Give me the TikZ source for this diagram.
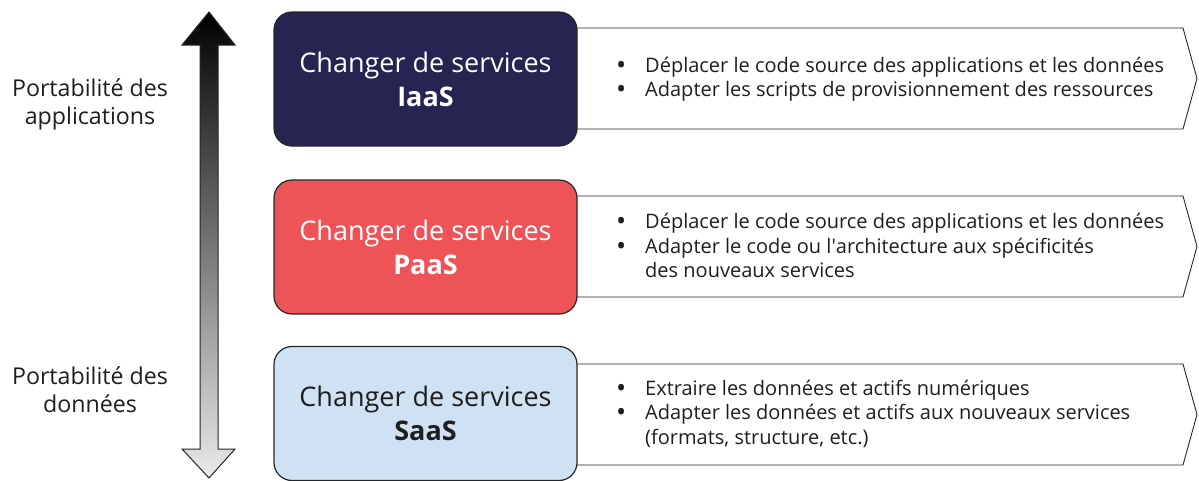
\documentclass[tikz,border=0pt]{standalone}
\usepackage{graphicx}
\usepackage{fontspec}
\setmainfont{Open Sans}
\definecolor{iaas}{HTML}{262451}
\definecolor{paas}{HTML}{EE5457}
\definecolor{saas}{HTML}{CFE2F3}
\definecolor{txt}{HTML}{1E1E1E}
\newcommand{\bul}{\makebox[29pt][l]{\raisebox{-0.1em}{\scalebox{1.35}{\textbullet}}}}
\begin{document}
\begin{tikzpicture}[x=1pt,y=-1pt,
  svcbox/.style={draw=black!85, line width=1.2pt, rounded corners=18pt, minimum width=303pt, minimum height=134pt, align=center, font=\fontsize{27}{34}\selectfont, inner sep=0pt},
  pent/.style={draw=black!85, line width=0.9pt, fill=white},
  bullets/.style={anchor=west, align=left, text=txt, font=\fontsize{20}{24.5}\selectfont, inner sep=0pt},
  sidelabel/.style={align=center, text=txt, font=\fontsize{23.2}{28}\selectfont}]
\useasboundingbox (0,0) rectangle (1199,480);
% double arrow
\shade[top color=black, bottom color=black!8, draw=black!85, line width=1pt]
  (209,12) -- (235,45) -- (218,45) -- (218,449) -- (235,449) -- (209,478)
  -- (182,449) -- (200,449) -- (200,45) -- (182,45) -- cycle;
% left labels
\node[sidelabel] (lapp) at (90,104) {Portabilité des\\applications};
\node[sidelabel] (ldat) at (90,390) {Portabilité des\\données};
% pentagons
\draw[pent] (560,28) -- (1183,28) -- (1197,78.5) -- (1183,129) -- (560,129) -- cycle;
\draw[pent] (560,196) -- (1183,196) -- (1197,246.5) -- (1183,297) -- (560,297) -- cycle;
\draw[pent] (560,364) -- (1183,364) -- (1197,414.5) -- (1183,465) -- (560,465) -- cycle;
% boxes
\node[svcbox, fill=iaas, text=white] (iaas) at (425.5,79) {Changer de services\\\textbf{IaaS}};
\node[svcbox, fill=paas, text=white] (paas) at (425.5,247) {Changer de services\\\textbf{PaaS}};
\node[svcbox, fill=saas, text=txt] (saas) at (425.5,413.5) {Changer de services\\\textbf{SaaS}};
% bullet texts
\node[bullets] (tiaas) at (616,79) {\bul Déplacer le code source des applications et les données\\
\bul Adapter les scripts de provisionnement des ressources};
\node[bullets] (tpaas) at (616,245.5) {\bul Déplacer le code source des applications et les données\\
\bul Adapter le code ou l\textquotesingle architecture aux spécificités\\
\hspace*{29pt}des nouveaux services};
\node[bullets] (tsaas) at (616,413.5) {\bul Extraire les données et actifs numériques\\
\bul Adapter les données et actifs aux nouveaux services\\
\hspace*{29pt}(formats, structure, etc.)};
\end{tikzpicture}
\end{document}
